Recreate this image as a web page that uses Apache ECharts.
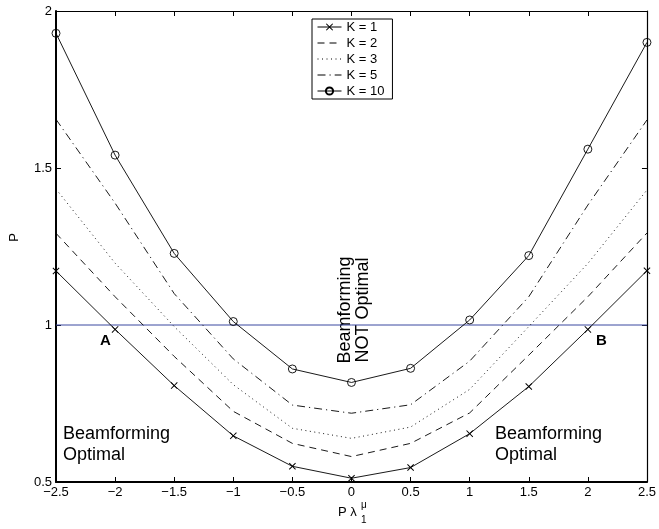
<!DOCTYPE html>
<html><head><meta charset="utf-8">
<script src="https://cdn.jsdelivr.net/npm/echarts@6/dist/echarts.min.js"></script>
<style>html,body{margin:0;padding:0;background:#fff}#c{width:659px;height:529px}</style>
</head><body><div id="c"></div>
<script>
const xs   = [-2.5, -2, -1.5, -1, -0.5, 0, 0.5, 1, 1.5, 2, 2.5];
const k1   = [1.172, 0.986, 0.807, 0.647, 0.550, 0.512, 0.546, 0.654, 0.804, 0.986, 1.173];
const k2   = [1.292, 1.090, 0.900, 0.725, 0.623, 0.581, 0.623, 0.720, 0.904, 1.090, 1.293];
const k3   = [1.433, 1.197, 0.995, 0.810, 0.671, 0.639, 0.675, 0.795, 0.995, 1.196, 1.430];
const k5   = [1.655, 1.388, 1.100, 0.892, 0.745, 0.719, 0.746, 0.885, 1.090, 1.382, 1.653];
const k10  = [1.929, 1.541, 1.228, 1.011, 0.860, 0.817, 0.862, 1.016, 1.221, 1.560, 1.900];
const seriesNames = ['K = 1', 'K = 2', 'K = 3', 'K = 5', 'K = 10'];
const threshold = 1;
const xRange = [-2.5, 2.5];
const yRange = [0.5, 2];

const pts = a => xs.map((x, i) => [x, a[i]]);
const font = 'Liberation Sans, Arial, Helvetica, sans-serif';
const crossPath = 'path://M0,1L1,0L5,4L9,0L10,1L6,5L10,9L9,10L5,6L1,10L0,9L4,5Z';
const fmt = v => (v < 0 ? '\u2212' + String(-v) : String(v));

const base = (name, data, type, extra) => Object.assign({
  name, type: 'line', data: pts(data), xAxisIndex: 0, yAxisIndex: 0,
  symbol: 'none', lineStyle: { color: '#000', width: 0.9, type },
  itemStyle: { color: '#000' }, color: '#000', animation: false, z: 3
}, extra || {});

const noMark = { itemStyle: { opacity: 0 } };

const chart = echarts.init(document.getElementById('c'));
chart.setOption({
  backgroundColor: '#fff',
  animation: false,
  grid: { left: 56, right: 8, top: 11, bottom: 47 },
  xAxis: [
    { type: 'value', min: xRange[0], max: xRange[1], interval: 0.5, position: 'bottom',
      axisLine: { onZero: false, lineStyle: { color: '#000', width: 2 } },
      axisTick: { inside: true, length: 5, lineStyle: { color: '#000' } },
      axisLabel: { color: '#000', fontSize: 13, fontFamily: font, margin: 4, formatter: fmt },
      splitLine: { show: false } },
    { type: 'value', min: xRange[0], max: xRange[1], interval: 0.5, position: 'top',
      axisLine: { onZero: false, lineStyle: { color: '#000', width: 1.2 } },
      axisTick: { inside: true, length: 5, lineStyle: { color: '#000' } },
      axisLabel: { show: false }, splitLine: { show: false } }
  ],
  yAxis: [
    { type: 'value', min: yRange[0], max: yRange[1], interval: 0.5, position: 'left',
      axisLine: { onZero: false, lineStyle: { color: '#000', width: 2 } },
      axisTick: { inside: true, length: 5, lineStyle: { color: '#000' } },
      axisLabel: { color: '#000', fontSize: 13, fontFamily: font, margin: 4 },
      splitLine: { show: false } },
    { type: 'value', min: yRange[0], max: yRange[1], interval: 0.5, position: 'right',
      axisLine: { onZero: false, lineStyle: { color: '#000', width: 1.2 } },
      axisTick: { inside: true, length: 5, lineStyle: { color: '#000' } },
      axisLabel: { show: false }, splitLine: { show: false } }
  ],
  legend: {
    data: [
      { name: seriesNames[0] },
      Object.assign({ name: seriesNames[1] }, noMark),
      Object.assign({ name: seriesNames[2] }, noMark),
      Object.assign({ name: seriesNames[3] }, noMark),
      { name: seriesNames[4] }
    ],
    orient: 'vertical', left: 312, top: 19,
    itemWidth: 24, itemHeight: 9, itemGap: 2, padding: [1, 8, 1, 5],
    borderColor: '#000', borderWidth: 1, backgroundColor: '#fff',
    lineStyle: { width: 1 },
    textStyle: { color: '#000', fontSize: 13, fontFamily: font, lineHeight: 14 }, selectedMode: false
  },
  series: [
    { name: 'threshold', type: 'line', data: [[xRange[0], threshold], [xRange[1], threshold]],
      symbol: 'none', lineStyle: { color: '#3a48a0', width: 1 }, z: 2, animation: false, silent: true },
    base(seriesNames[0], k1, 'solid', { symbol: crossPath, symbolSize: 7 }),
    base(seriesNames[1], k2, [7, 5]),
    base(seriesNames[2], k3, [1, 3.5]),
    base(seriesNames[3], k5, [8, 4, 1.2, 4]),
    base(seriesNames[4], k10, 'solid', { symbol: 'circle', symbolSize: 8,
      itemStyle: { color: 'rgba(255,255,255,0)', borderColor: '#000', borderWidth: 0.9 } })
  ],
  graphic: [
    { type: 'text', left: 8, top: 233, rotation: Math.PI / 2,
      style: { text: 'P', fill: '#000', font: '13px ' + font } },
    { type: 'group', left: 338, top: 500, children: [
      { type: 'text', x: 0, y: 8, style: { text: 'P λ', fill: '#000', font: '13px ' + font } },
      { type: 'text', x: 23, y: 2, style: { text: 'μ', fill: '#000', font: '10px ' + font } },
      { type: 'text', x: 23, y: 17, style: { text: '1', fill: '#000', font: '10px ' + font } }
    ] },
    { type: 'text', x: 100, y: 333, style: { text: 'A', fill: '#000', font: 'bold 15px ' + font } },
    { type: 'text', x: 596, y: 333, style: { text: 'B', fill: '#000', font: 'bold 15px ' + font } },
    { type: 'text', x: 63, y: 424, style: { text: 'Beamforming\nOptimal', fill: '#000', font: '18px ' + font, lineHeight: 21 } },
    { type: 'text', x: 495, y: 424, style: { text: 'Beamforming\nOptimal', fill: '#000', font: '18px ' + font, lineHeight: 21 } },
    { type: 'text', x: 354, y: 310, rotation: Math.PI / 2,
      style: { text: 'Beamforming\nNOT Optimal', fill: '#000', font: '18px ' + font, lineHeight: 18,
        align: 'center', verticalAlign: 'middle' } }
  ]
});
</script></body></html>
